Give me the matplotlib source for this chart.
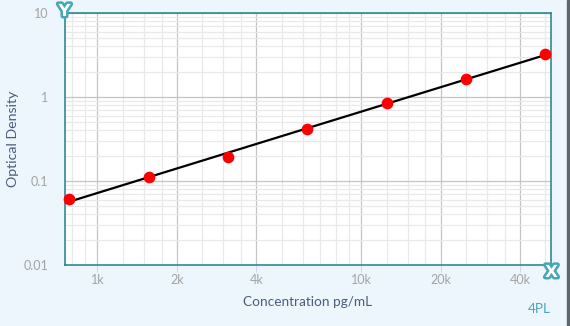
import matplotlib
matplotlib.use("Agg")
import matplotlib.pyplot as plt
import matplotlib.ticker as mticker
import matplotlib.patheffects as pe
import numpy as np

# standards (pg/mL) and measured optical density
conc = [781.25, 1562.5, 3125, 6250, 12500, 25000, 50000]
od = [0.0604, 0.1116, 0.195, 0.416, 0.839, 1.64, 3.25]

# 4PL fit curve
fit_x = [750, 6250, 52500]
fit_y = [0.0545, 0.425, 3.32]

x_major = [1000, 2000, 4000, 10000, 20000, 40000]
x_major_labels = ["1k", "2k", "4k", "10k", "20k", "40k"]
x_minor_steps = [1.25, 1.5, 1.75, 2.5, 3, 3.5, 5, 6, 7, 8, 9]
y_major = [0.01, 0.1, 1, 10]
y_major_labels = ["0.01", "0.1", "1", "10"]

teal = "#1f7f8c"
icon = "#45a6b5"
tick_grey = "#a3a3a3"
label_col = "#4b5c7c"
bg = "#eef6fd"

plt.rcParams["font.family"] = ["Lato", "DejaVu Sans"]

fig = plt.figure(figsize=(5.7, 3.26), dpi=100, facecolor=bg)
ax = fig.add_axes([0.1132, 0.1871, 0.9667 - 0.1132, 0.9601 - 0.1871])
ax.set_facecolor("white")

ax.set_xscale("log")
ax.set_yscale("log")
ax.set_xlim(750, 52500)
ax.set_ylim(0.01, 10)

minor_x = [s * d for d in [100, 1000, 10000] for s in x_minor_steps]
ax.xaxis.set_major_locator(mticker.FixedLocator(x_major))
ax.xaxis.set_major_formatter(mticker.FixedFormatter(x_major_labels))
ax.xaxis.set_minor_locator(mticker.FixedLocator(minor_x))
ax.xaxis.set_minor_formatter(mticker.NullFormatter())
ax.yaxis.set_major_locator(mticker.FixedLocator(y_major))
ax.yaxis.set_major_formatter(mticker.FixedFormatter(y_major_labels))
ax.yaxis.set_minor_locator(mticker.LogLocator(base=10, subs=np.arange(2, 10)))
ax.yaxis.set_minor_formatter(mticker.NullFormatter())

ax.grid(which="major", color="#c4c4c4", linewidth=0.9)
ax.grid(which="minor", color="#e9e9e9", linewidth=0.9)
ax.set_axisbelow(True)

ax.tick_params(axis="x", which="major", length=5, color="#c7dcf0", labelcolor=tick_grey,
               labelsize=9, pad=1.5)
ax.tick_params(axis="y", which="major", length=0, labelcolor=tick_grey, labelsize=9, pad=11.5)
ax.tick_params(which="minor", length=0)

for s in ax.spines.values():
    s.set_color(teal)
    s.set_linewidth(1.1)

ax.plot(fit_x, fit_y, color="black", linewidth=1.6, zorder=3)
ax.plot(conc, od, "o", color="#ff0000", markersize=7.4, zorder=4, clip_on=False)

ax.set_xlabel("Concentration pg/mL", color=label_col, fontsize=9.8)
ax.set_ylabel("Optical Density", color=label_col, fontsize=10.2)
ax.xaxis.set_label_coords(0.5, -0.123)
ax.yaxis.set_label_coords(-0.0935, 0.5)

# axis badges
stroke = [pe.withStroke(linewidth=3.6, foreground=icon)]
fig.text(64.5 / 570, 1 - 11 / 326, "Y", color="white", fontsize=12, fontweight="heavy",
         ha="center", va="center", path_effects=stroke, family="DejaVu Sans")
fig.text(551.5 / 570, 1 - 272 / 326, "X", color="white", fontsize=12, fontweight="heavy",
         ha="center", va="center", path_effects=stroke, family="DejaVu Sans")
fig.text(551 / 570, 1 - 309 / 326, "4PL", color="#4aa3c3", fontsize=9.8,
         ha="right", va="center")

# dark strip on the right edge
fig.patches.append(plt.Rectangle((567 / 570, 0), 3 / 570, 1, transform=fig.transFigure,
                                 color="#5f676d", zorder=10))

fig.savefig("out.png", dpi=100, facecolor=bg)
